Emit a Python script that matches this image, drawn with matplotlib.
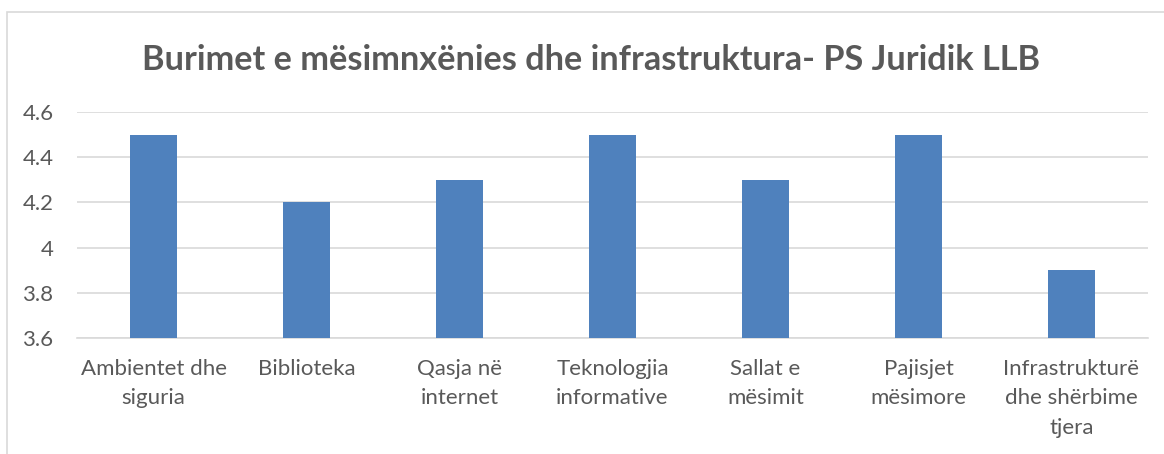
import matplotlib
matplotlib.use('Agg')
import matplotlib.pyplot as plt
from matplotlib.patches import Rectangle

categories = ['Ambientet dhe\nsiguria', 'Biblioteka', 'Qasja në\ninternet',
              'Teknologjia\ninformative', 'Sallat e\nmësimit', 'Pajisjet\nmësimore',
              'Infrastrukturë\ndhe shërbime\ntjera']
values = [4.5, 4.2, 4.3, 4.5, 4.3, 4.5, 3.9]
y_ticks = [3.6, 3.8, 4.0, 4.2, 4.4, 4.6]
y_labels = ['3.6', '3.8', '4', '4.2', '4.4', '4.6']
title = 'Burimet e mësimnxënies dhe infrastruktura- PS Juridik LLB'

plt.rcParams['font.family'] = ['Lato', 'DejaVu Sans']
text_color = '#595959'
grid_color = '#D9D9D9'

fig = plt.figure(figsize=(11.64, 4.54), dpi=100)
ax = fig.add_axes([0.0662, 0.2555, 0.920, 0.4978])

x = range(len(categories))
ax.bar(x, values, width=0.31, color='#4F81BD', zorder=3)

ax.set_xlim(-0.5, len(categories) - 0.5)
ax.set_ylim(3.6, 4.6)
ax.set_yticks(y_ticks)
ax.set_yticklabels(y_labels)
ax.set_xticks(list(x))
ax.set_xticklabels(categories, linespacing=1.6)
ax.tick_params(axis='both', length=0, labelsize=16, labelcolor=text_color)
ax.tick_params(axis='y', pad=17)
ax.tick_params(axis='x', pad=15)
ax.grid(axis='y', color=grid_color, linewidth=1.2, zorder=0)
for side in ['top', 'right', 'left']:
    ax.spines[side].set_visible(False)
ax.spines['bottom'].set_color(grid_color)
ax.spines['bottom'].set_linewidth(1.2)

fig.text(0.508, 0.868, title, ha='center', va='center', fontsize=24.7,
         fontweight='bold', color=text_color)

# chart area frame (only top and left visible in the crop)
fig.patches.append(Rectangle((7 / 1164, -0.1), 1.2, 0.1 + (454 - 12) / 454,
                             transform=fig.transFigure, fill=False,
                             edgecolor=grid_color, linewidth=1.2))

fig.savefig('out.png', dpi=100)
